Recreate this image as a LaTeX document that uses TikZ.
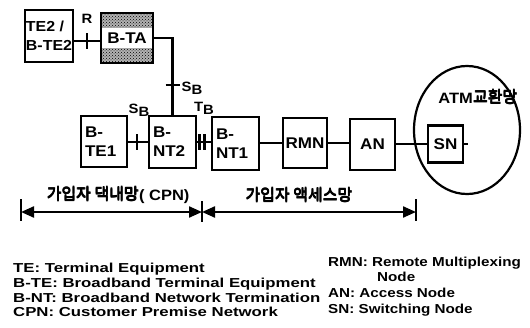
\documentclass[tikz,border=0pt]{standalone}
\usepackage{fontspec}
\setmainfont{Liberation Sans}
\newfontfamily\lgfont{Liberation Sans}[FakeStretch=1.29]
\newfontfamily\lgrfont{Liberation Sans}[FakeStretch=1.17]
\newfontfamily\bxfont{Liberation Sans}[FakeStretch=1.1]
\newfontfamily\krfont{Noto Sans CJK KR}
\newcommand{\heavytext}[1]{\rlap{#1}\rlap{\kern0.6pt#1}\rlap{\raisebox{0.4pt}{#1}}\kern0.6pt\raisebox{0.4pt}{#1}}
\usetikzlibrary{arrows.meta,patterns,shapes.geometric}
\begin{document}
\begin{tikzpicture}[x=1pt,y=-1pt,
  box/.style={draw, line width=2.2pt, rectangle, inner sep=0pt, align=left,
    font=\bxfont\bfseries\fontsize{15.5}{19}\selectfont},
  cbox/.style={draw, line width=2.2pt, rectangle, inner sep=0pt, align=center,
    font=\bxfont\bfseries\fontsize{15.5}{19}\selectfont},
  conn/.style={line width=2.2pt},
  tickln/.style={line width=2.2pt},
  dim/.style={line width=2.2pt, {Triangle[length=13pt,width=11pt]}-{Triangle[length=13pt,width=11pt]}},
  ifl/.style={font=\bxfont\bfseries\fontsize{13.5}{15}\selectfont, inner sep=0pt},
  kr/.style={font=\krfont\fontsize{16}{18}\selectfont, inner sep=0pt},
  lg/.style={font=\lgfont\bfseries\fontsize{13}{15}\selectfont, inner sep=0pt, anchor=base west},
  lgr/.style={font=\lgrfont\bfseries\fontsize{13}{15}\selectfont, inner sep=0pt, anchor=base west}
]
\useasboundingbox (0,0) rectangle (530,327);

% boxes
\node[box, minimum width=48, minimum height=52,
  font=\bxfont\bfseries\fontsize{14.5}{19}\selectfont] (te2) at (49,36) {TE2 /\\B-TE2};
\node[cbox, minimum width=52, minimum height=50,
  path picture={
    \fill[black!30] (path picture bounding box.south west) rectangle (path picture bounding box.north east);
    \fill[pattern=crosshatch dots, pattern color=black] (path picture bounding box.south west) rectangle (path picture bounding box.north east);
    \fill[white] ([yshift=10pt]path picture bounding box.west) rectangle ([yshift=-10pt]path picture bounding box.east);}
  ] (bta) at (127,38) {B-TA};
\node[box, minimum width=46, minimum height=51, text width=38] (bte1) at (104,141.5) {B-\\TE1};
\node[box, minimum width=47, minimum height=52, text width=39] (bnt2) at (172.5,142) {B-\\NT2};
\node[box, minimum width=47, minimum height=53, text width=39] (bnt1) at (235.5,143.5) {B-\\NT1};
\node[cbox, minimum width=44, minimum height=50] (rmn) at (305,143) {RMN};
\node[cbox, minimum width=45, minimum height=51] (an) at (372.5,144.5) {AN};
\node[cbox, minimum width=35, minimum height=37] (sn) at (445.5,144) {SN};
\node[ellipse, draw, line width=2.2pt, minimum width=106, minimum height=128, inner sep=0pt] (atm) at (467,130) {};
\node[inner sep=0pt] (atml) at (478,97) {{\bxfont\bfseries\fontsize{15}{17}\selectfont ATM}{\krfont\fontsize{16}{17}\selectfont\heavytext{교환망}}};

% reference points
\coordinate (r) at (87,41);
\coordinate (sb1) at (172.5,85);
\coordinate (t1) at (137,142);
\coordinate (t2) at (202,142);

% connectors
\draw[conn] (te2.east |- r) -- (bta.west |- r);
\draw[conn] (bta.east) -| (bnt2.north);
\draw[conn] (bte1.east |- t1) -- (bnt2.west |- t1);
\draw[conn] (bnt2.east |- t2) -- (bnt1.west |- t2);
\draw[conn] (bnt1.east |- rmn) -- (rmn.west);
\draw[conn] (rmn.east) -- (an.west |- rmn.east);
\draw[conn] (an.east |- sn.west) -- (sn.west);
\draw[conn] (sn.east) -- ++(4,0);

% ticks
\draw[tickln] ([yshift=8pt]r) -- ([yshift=-8pt]r);
\draw[tickln] ([xshift=-7pt]sb1) -- ([xshift=7pt]sb1);
\draw[tickln] ([yshift=8pt]t1) -- ([yshift=-8pt]t1);
\draw[tickln] ([xshift=-2.5pt,yshift=8pt]t2) -- ([xshift=-2.5pt,yshift=-8pt]t2);
\draw[tickln] ([xshift=2.5pt,yshift=8pt]t2) -- ([xshift=2.5pt,yshift=-8pt]t2);

% interface labels
\node[ifl] (lr) at (87,19) {R};
\node[ifl] (lsb1) at (192,88) {S\raisebox{-3pt}{B}};
\node[ifl] (lsb2) at (139,110) {S\raisebox{-3pt}{B}};
\node[ifl] (ltb) at (204,108) {T\raisebox{-3pt}{B}};

% dimension lines
\coordinate (d0) at (21,212);
\coordinate (d1) at (202,212);
\coordinate (d2) at (416,212);
\draw[tickln] ([yshift=13pt]d0) -- ([yshift=-9pt]d0);
\draw[tickln] ([yshift=11pt]d1) -- ([yshift=-10pt]d1);
\draw[tickln] ([yshift=13pt]d2) -- ([yshift=-9pt]d2);
\draw[dim] (d0) -- (d1);
\draw[dim] (d1) -- (d2);
\node[kr] (cpn) at (118,195) {\heavytext{가입자 댁내망}{\bxfont\bfseries\fontsize{15}{17}\selectfont( CPN)}};
\node[kr] (acc) at (299,195) {\heavytext{가입자 액세스망}};

% legend
\node[lg] (l1) at (13,272.5) {TE: Terminal Equipment};
\node[lg] (l2) at (13,287) {B-TE: Broadband Terminal Equipment};
\node[lg] (l3) at (13,302) {B-NT: Broadband Network Termination};
\node[lg] (l4) at (13,316.5) {CPN: Customer Premise Network};
\node[lgr] (m1) at (328,266.5) {RMN: Remote Multiplexing};
\node[lgr] (m2) at (377,281.5) {Node};
\node[lgr] (m3) at (328,297.5) {AN: Access Node};
\node[lgr] (m4) at (328,313.5) {SN: Switching Node};
\end{tikzpicture}
\end{document}
